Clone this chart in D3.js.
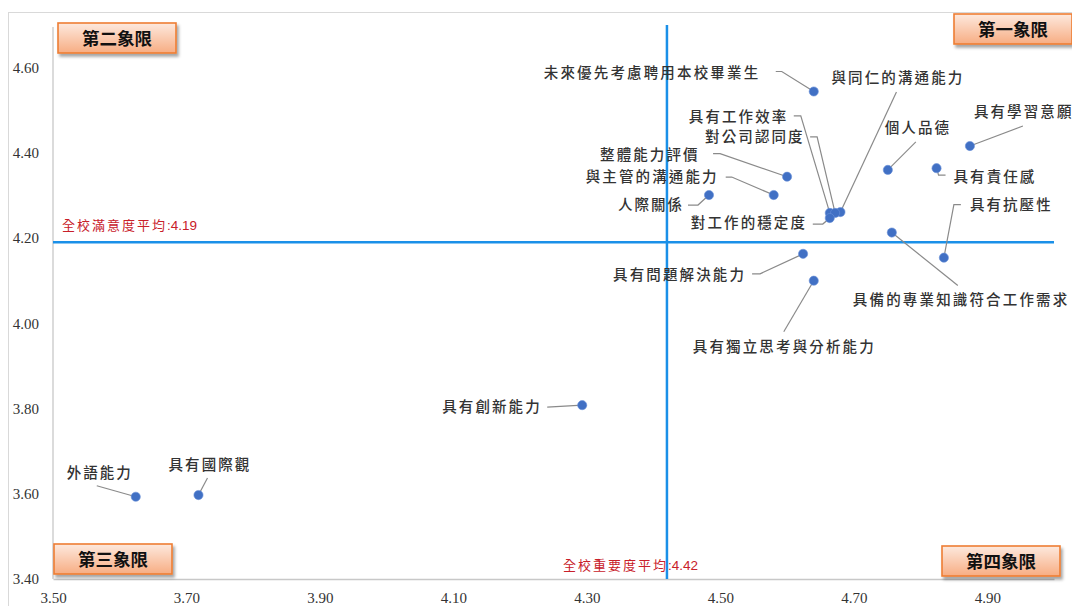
<!DOCTYPE html>
<html><head><meta charset="utf-8">
<script src="https://cdn.jsdelivr.net/npm/d3@7"></script>
<style>
html,body{margin:0;padding:0;background:#fff;}
svg{display:block;}
</style></head>
<body>
<svg id="chart" width="1072" height="606"></svg>
<script>
// ---- data ----
const names = [
  "未來優先考慮聘用本校畢業生","與同仁的溝通能力","具有工作效率","對公司認同度",
  "整體能力評價","與主管的溝通能力","人際關係","對工作的穩定度",
  "個人品德","具有學習意願","具有責任感","具有抗壓性",
  "具備的專業知識符合工作需求","具有問題解決能力","具有獨立思考與分析能力","具有創新能力",
  "外語能力","具有國際觀"
];
const importance = [4.64,4.68,4.664,4.672,4.60,4.58,4.483,4.664,4.751,4.874,4.824,4.835,4.757,4.624,4.64,4.293,3.624,3.718];
const satisfaction = [4.544,4.261,4.259,4.259,4.344,4.301,4.301,4.247,4.36,4.416,4.364,4.154,4.213,4.163,4.10,3.808,3.593,3.597];
const xTicks = [3.5,3.7,3.9,4.1,4.3,4.5,4.7,4.9];
const yTicks = [3.4,3.6,3.8,4.0,4.2,4.4,4.6];
const avgImportance = 4.42;
const avgSatisfaction = 4.19;
const quadrantNames = ["第一象限","第二象限","第三象限","第四象限"];

// ---- label layout (pixel offsets relative to each point) ----
const labelLayout = [
  {dx:-270,dy:-19,leader:[[-38,-20],[-32,-20]]},
  {dx:-9,dy:-134,leader:[[56,-120]]},
  {dx:-141,dy:-96,leader:[[-36,-97],[-29,-97]]},
  {dx:-130,dy:-76,leader:[[-25,-76],[-18,-76]]},
  {dx:-187,dy:-22,leader:[[-74,-23],[-67,-23]]},
  {dx:-188,dy:-18,leader:[[-48,-18],[-42,-18]]},
  {dx:-91,dy:10,leader:[[-21,10],[-11,10]]},
  {dx:-139,dy:5,leader:[[-17,6],[-7,6]]},
  {dx:-3,dy:-42,leader:[[28,-28]]},
  {dx:4,dy:-34,leader:[[53,-20]]},
  {dx:17,dy:9,leader:[[9,7],[2,7]]},
  {dx:26,dy:-53,leader:[[17,-53],[10,-53]]},
  {dx:-39,dy:67,leader:[[66,53]]},
  {dx:-190,dy:21,leader:[[-51,20],[-43,20]]},
  {dx:-121,dy:66,leader:[[-30,51]]},
  {dx:-140,dy:2,leader:[[-35,2]]},
  {dx:-69,dy:-24,leader:[[-39,-11]]},
  {dx:-30,dy:-30,leader:[[9,-17]]}
];

const svg = d3.select("#chart");
const plot = {left:53, right:1054, top:25, bottom:579};

const x = d3.scaleLinear().domain([3.5,5.0]).range([plot.left, plot.right]);
const y = d3.scaleLinear().domain([3.4,4.7]).range([plot.bottom, plot.top]);

// defs
const defs = svg.append("defs");
const grad = defs.append("linearGradient").attr("id","qgrad").attr("x1",0).attr("y1",0).attr("x2",0).attr("y2",1);
grad.append("stop").attr("offset","0%").attr("stop-color","#fde9de");
grad.append("stop").attr("offset","100%").attr("stop-color","#f7ad83");
const f = defs.append("filter").attr("id","shadow").attr("x","-20%").attr("y","-30%").attr("width","150%").attr("height","180%");
f.append("feDropShadow").attr("dx",2).attr("dy",3).attr("stdDeviation",1.8).attr("flood-color","#000").attr("flood-opacity",0.35);

// outer border
svg.append("rect").attr("x",8.5).attr("y",12.5).attr("width",1200).attr("height",700)
  .attr("fill","none").attr("stroke","#d9d9d9").attr("stroke-width",1);

// axes
const xAxis = d3.axisBottom(x).tickValues(xTicks).tickSize(0).tickSizeOuter(0).tickPadding(13).tickFormat(d3.format(".2f"));
const yAxis = d3.axisLeft(y).tickValues(yTicks).tickSize(0).tickSizeOuter(0).tickPadding(14).tickFormat(d3.format(".2f"));
const gx = svg.append("g").attr("transform",`translate(0,${plot.bottom})`).call(xAxis);
const gy = svg.append("g").attr("transform",`translate(${plot.left},0)`).call(yAxis);
[gx,gy].forEach(g=>{
  g.select(".domain").attr("stroke","#c8c8c8").attr("stroke-width",1.3);
  g.selectAll("text").attr("font-family","'Liberation Serif', 'Times New Roman', serif")
    .attr("font-size",15).attr("fill","#333");
});
gy.select(".domain").attr("d",`M0,${plot.bottom}V${y(4.7)+2}`);

// average lines
svg.append("line").attr("x1",x(avgImportance)).attr("x2",x(avgImportance))
  .attr("y1",plot.top).attr("y2",plot.bottom).attr("stroke","#1a90e8").attr("stroke-width",2.5);
svg.append("line").attr("x1",plot.left).attr("x2",plot.right)
  .attr("y1",y(avgSatisfaction)).attr("y2",y(avgSatisfaction)).attr("stroke","#1a90e8").attr("stroke-width",2.5);

function redLabel(xp, yp, prefix, val){
  const t = svg.append("text").attr("x",xp).attr("y",yp).attr("fill","#c8202a").attr("font-size",13);
  t.append("tspan").attr("font-family","'Noto Sans CJK TC',sans-serif").attr("letter-spacing",2).text(prefix);
  t.append("tspan").attr("font-family","'Liberation Sans',Arial,sans-serif").attr("font-size",13.5).text(":" + val.toFixed(2));
}
redLabel(plot.left+9, y(avgSatisfaction)-12, "全校滿意度平均", avgSatisfaction);
redLabel(x(avgImportance)-104, plot.bottom-9, "全校重要度平均", avgImportance);

// quadrant boxes
const qpos = [
  {x:plot.right-100, y:plot.top-11},
  {x:plot.left+5, y:plot.top-2},
  {x:plot.left+1, y:plot.bottom-35},
  {x:plot.right-112, y:plot.bottom-33}
];
quadrantNames.forEach((q,i)=>{
  const g = svg.append("g").attr("transform",`translate(${qpos[i].x},${qpos[i].y})`);
  g.append("rect").attr("width",118).attr("height",30).attr("fill","url(#qgrad)")
    .attr("stroke","#ee7d33").attr("stroke-width",1.6).attr("filter","url(#shadow)");
  g.append("text").attr("x",59).attr("y",22).attr("text-anchor","middle")
    .attr("font-family","'Noto Sans CJK TC','Noto Sans CJK SC',sans-serif").attr("font-weight",700)
    .attr("font-size",17.5).attr("fill","#111").text(q);
});

// leaders
const lineGen = d3.line();
names.forEach((n,i)=>{
  const px = x(importance[i]), py = y(satisfaction[i]);
  const L = labelLayout[i];
  const pts = L.leader.map(p=>[px+p[0],py+p[1]]);
  pts.push([px,py]);
  svg.append("path").attr("d",lineGen(pts)).attr("fill","none")
    .attr("stroke","#8a8a8a").attr("stroke-width",1.2);
});

// points
svg.append("g").selectAll("circle").data(names).join("circle")
  .attr("cx",(d,i)=>x(importance[i])).attr("cy",(d,i)=>y(satisfaction[i]))
  .attr("r",4.6).attr("fill","#4170c4").attr("stroke","#6a90d8").attr("stroke-width",0.6);

// labels
svg.append("g").selectAll("text").data(names).join("text")
  .attr("x",(d,i)=>x(importance[i])+labelLayout[i].dx)
  .attr("y",(d,i)=>y(satisfaction[i])+labelLayout[i].dy)
  .attr("dy","0.36em")
  .attr("font-family","'Noto Sans CJK TC','Noto Sans CJK SC',sans-serif")
  .attr("font-weight",500).attr("font-size",14.5).attr("fill","#333")
  .attr("textLength",d=>d.length*16.7-2.7).attr("lengthAdjust","spacing")
  .text(d=>d);
</script>
</body></html>
